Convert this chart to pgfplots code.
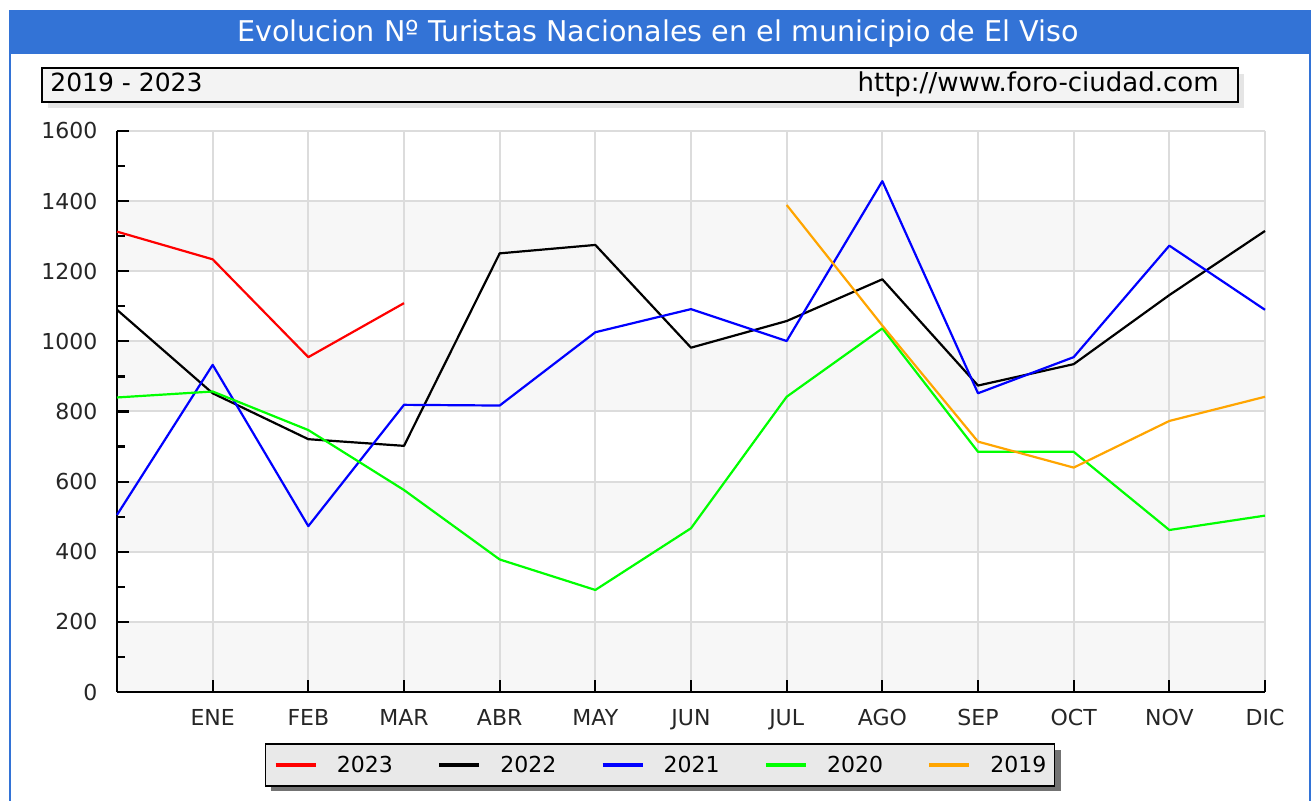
\documentclass[border=0pt]{standalone}
\usepackage{fontspec}
\setmainfont{DejaVu Sans}
\usepackage{pgfplots}
\pgfplotsset{compat=1.18}
\definecolor{titleblue}{HTML}{3373D6}
\definecolor{gridgray}{HTML}{DCDCDC}
\definecolor{bandgray}{HTML}{F7F7F7}
\definecolor{legendgray}{HTML}{E9E9E9}
\definecolor{subgray}{HTML}{F3F3F3}
\definecolor{c2023}{HTML}{FF0000}
\definecolor{c2022}{HTML}{000000}
\definecolor{c2021}{HTML}{0000FF}
\definecolor{c2020}{HTML}{00FF00}
\definecolor{c2019}{HTML}{FFA500}
\begin{document}
\begin{tikzpicture}
\begin{scope}[shift={(-58.5pt,346pt)},x=0.5pt,y=-0.5pt]
  \fill[white] (0,0) rectangle (1316,801);
  \fill[titleblue] (9,10) rectangle (1311,54);
  \fill[titleblue] (9,54) rectangle (11.5,801);
  \fill[titleblue] (1308.5,54) rectangle (1311,801);
  \node[text=white,font=\fontsize{14.3}{16}\selectfont,inner sep=0pt,anchor=base] at (658,42) {Evolucion Nº Turistas Nacionales en el municipio de El Viso};
  \fill[black!10] (48,74) rectangle (1244,108);
  \filldraw[fill=subgray,draw=black,line width=0.8pt] (42,68) rectangle (1238,102);
  \node[anchor=base west,font=\fontsize{12.5}{14}\selectfont,inner sep=0pt] at (50,92) {2019 - 2023};
  \node[anchor=base east,font=\fontsize{13}{15}\selectfont,inner sep=0pt] at (1219,92) {http://www.foro-ciudad.com};
  % background bands of the plot area
  \fill[bandgray] (117,692) rectangle (1265,621.875);
  \fill[bandgray] (117,551.75) rectangle (1265,481.625);
  \fill[bandgray] (117,411.5) rectangle (1265,341.375);
  \fill[bandgray] (117,271.25) rectangle (1265,201.125);
  % legend shadow
  \fill[black!55] (271,750) rectangle (1061,791);
\end{scope}
\begin{axis}[
  clip=false,
  scale only axis, width=574pt, height=280.5pt,
  xmin=0, xmax=12, ymin=0, ymax=1600,
  axis x line*=bottom, axis y line*=left,
  axis line style={black, line width=1.3pt},
  xtick={1,...,12},
  xticklabels={ENE,FEB,MAR,ABR,MAY,JUN,JUL,AGO,SEP,OCT,NOV,DIC},
  ytick={0,200,...,1600},
  minor ytick={100,300,...,1500},
  tick align=inside,
  major tick length=6pt, minor tick length=4pt,
  tick style={black, line width=1.1pt},
  grid=major,
  major grid style={gridgray, line width=1pt},
  /pgf/number format/assume math mode=true,
  /pgf/number format/1000 sep={},
  ticklabel style={font=\fontsize{11}{13}\selectfont, text=black!85},
  yticklabel style={xshift=-6.3pt},
  xticklabel style={yshift=-5.3pt},
  legend columns=5,
  legend style={
    at={(0.4730,-0.0909)}, anchor=north,
    fill=legendgray, draw=black, line width=0.8pt,
    inner xsep=4pt, inner ysep=6.5pt,
    font=\fontsize{11}{13}\selectfont,
    nodes={inner sep=0pt, text height=8pt, text depth=0pt},
    /tikz/every odd column/.append style={column sep=9.5pt},
    /tikz/every even column/.append style={column sep=22pt},
  },
  legend image code/.code={\draw[#1, line width=2.2pt] (0pt,0pt) -- (20pt,0pt);},
]
\addplot[c2023, line width=1.1pt, line join=round] coordinates {(0,1313) (1,1234) (2,955) (3,1109)};
\addlegendentry{2023}
\addplot[c2022, line width=1.1pt, line join=round] coordinates {(0,1090) (1,852) (2,721) (3,702) (4,1251) (5,1275) (6,982) (7,1058) (8,1177) (9,874) (10,935) (11,1132) (12,1315)};
\addlegendentry{2022}
\addplot[c2021, line width=1.1pt, line join=round] coordinates {(0,505) (1,933) (2,473) (3,819) (4,817) (5,1026) (6,1092) (7,1001) (8,1457) (9,852) (10,955) (11,1273) (12,1090)};
\addlegendentry{2021}
\addplot[c2020, line width=1.1pt, line join=round] coordinates {(0,840) (1,857) (2,747) (3,576) (4,378) (5,291) (6,467) (7,842) (8,1037) (9,685) (10,685) (11,462) (12,503)};
\addlegendentry{2020}
\addplot[c2019, line width=1.1pt, line join=round] coordinates {(7,1389) (8,1045) (9,714) (10,640) (11,773) (12,842)};
\addlegendentry{2019}
\end{axis}
\begin{scope}[shift={(-58.5pt,346pt)},x=0.5pt,y=-0.5pt]
  \pgfresetboundingbox
  \path[use as bounding box] (0,0) rectangle (1316,801);
\end{scope}
\end{tikzpicture}
\end{document}
